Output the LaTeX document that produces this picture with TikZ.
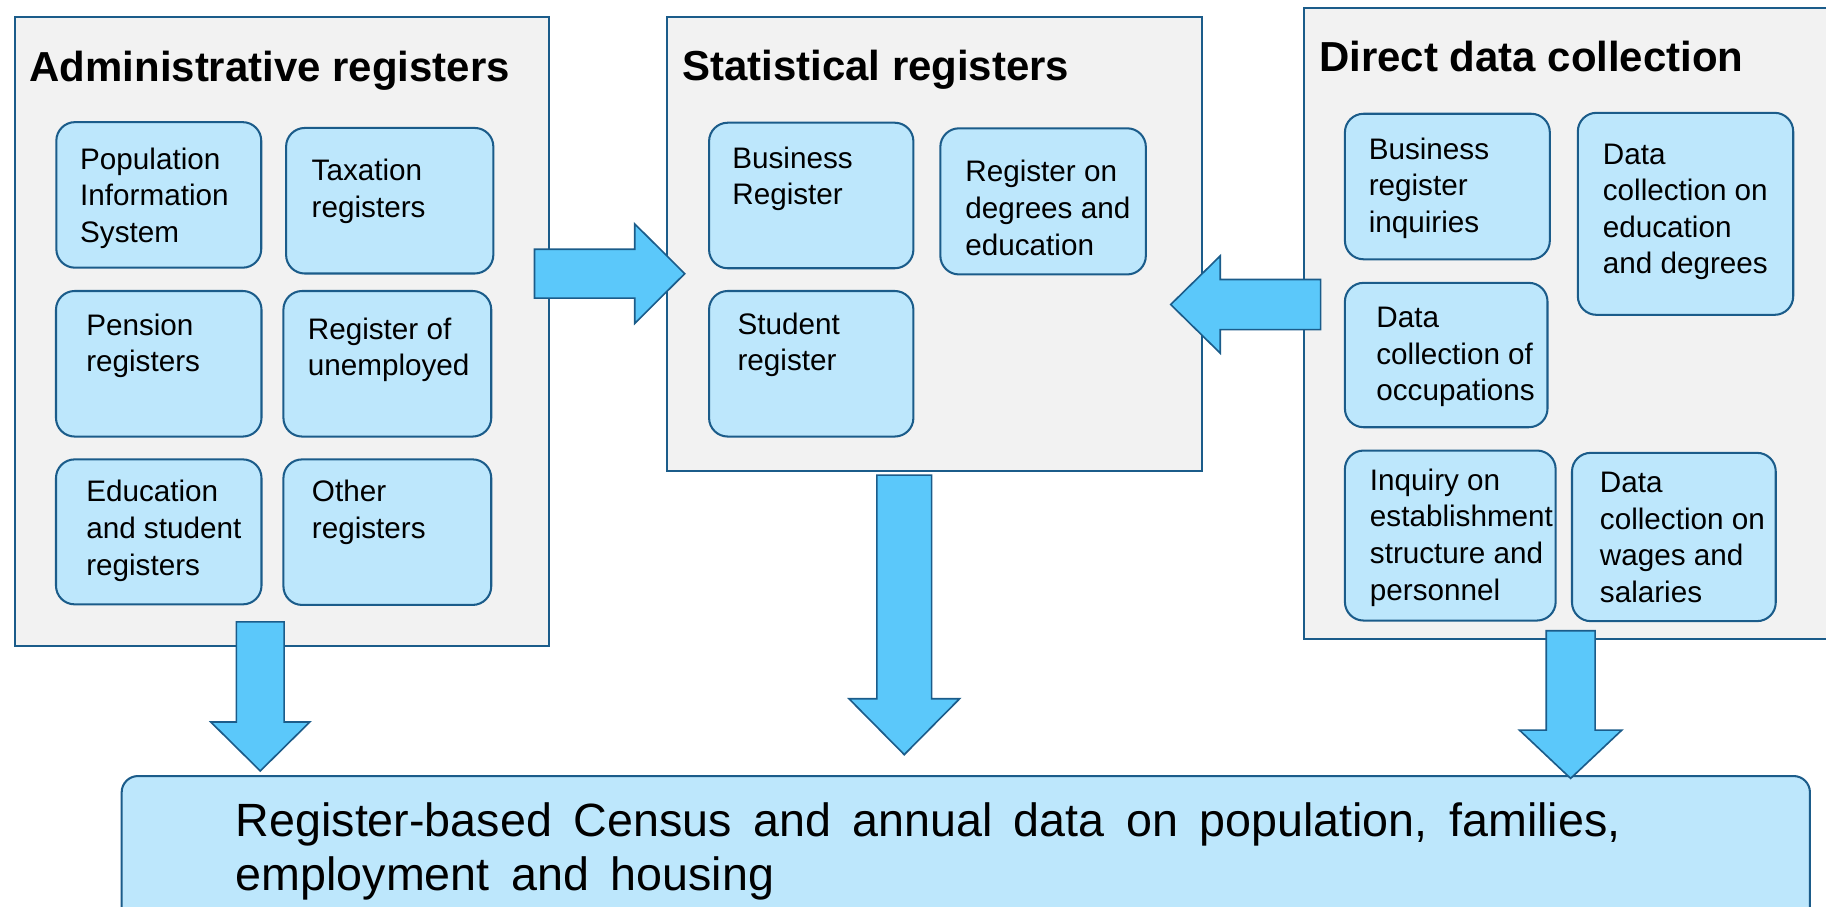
\documentclass[tikz,border=0pt]{standalone}
\usepackage{fontspec}
\setmainfont{Liberation Sans}
\usepackage{tikz}
\usetikzlibrary{calc}

\definecolor{edgeblue}{RGB}{27,92,138}
\definecolor{boxblue}{RGB}{189,231,252}
\definecolor{panelgray}{RGB}{242,242,242}
\definecolor{arrowblue}{RGB}{91,200,250}

% text of a box: width, left indent, lines
\newcommand{\boxtext}[3]{\parbox[t]{#1}{\raggedright\leftskip=#2\relax #3}}
% block arrow: tail, tip, shaft half width, head half width, head length
\newcommand{\fatarrow}[5]{%
  \coordinate (fat base) at ($(#2)!#5!(#1)$);
  \draw[bigarrow] ($(#1)!#3!90:(#2)$) -- ($(fat base)!#3!90:(#2)$) -- ($(fat base)!#4!90:(#2)$) -- (#2)
    -- ($(fat base)!#4!-90:(#2)$) -- ($(fat base)!#3!-90:(#2)$) -- ($(#1)!#3!-90:(#2)$) -- cycle;}

\begin{document}
\begin{tikzpicture}[x=0.02cm, y=-0.02cm,
    panel/.style={draw=edgeblue, fill=panelgray, line width=1pt, rectangle, anchor=north west, inner sep=0pt, font={\fontsize{20.5}{24}\selectfont\bfseries}},
    reg/.style={draw=edgeblue, fill=boxblue, line width=1pt, rectangle, rounded corners=0.32cm, anchor=north west, inner sep=0pt, font={\fontsize{14.5}{17.9}\selectfont}},
    result/.style={reg, rounded corners=0.28cm, font={\fontsize{22.8}{26.5}\selectfont}},
    bigarrow/.style={draw=edgeblue, fill=arrowblue, line width=0.8pt, line join=miter}
]
\useasboundingbox (0,0) rectangle (1568,778);

\node[panel, text height=1.10cm, text depth=9.70cm] (adm) at (12,14) {\boxtext{9.17cm}{0.25cm}{Administrative registers}};
\node[panel, text height=1.09cm, text depth=6.71cm] (stat) at (571.5,14) {\boxtext{9.19cm}{0.27cm}{Statistical registers}};
\node[panel, text height=1.09cm, text depth=9.74cm] (dir) at (1119,6.3) {\boxtext{9.62cm}{0.26cm}{Direct data collection}};

% administrative registers
\node[reg, text height=0.81cm, text depth=1.69cm] (pop) at (47.5,104) {\boxtext{3.52cm}{0.41cm}{Population\\Information\\System}};
\node[reg, text height=0.91cm, text depth=1.59cm] (tax) at (244.8,109) {\boxtext{3.56cm}{0.44cm}{Taxation\\registers}};
\node[reg, text height=0.76cm, text depth=1.74cm] (pension) at (47.2,249) {\boxtext{3.53cm}{0.52cm}{Pension\\registers}};
\node[reg, text height=0.83cm, text depth=1.67cm] (unemp) at (242.5,249) {\boxtext{3.57cm}{0.42cm}{Register of\\unemployed}};
\node[reg, text height=0.73cm, text depth=1.76cm] (edu) at (47.2,393.6) {\boxtext{3.53cm}{0.52cm}{Education\\and student\\registers}};
\node[reg, text height=0.73cm, text depth=1.77cm] (other) at (242.5,393.6) {\boxtext{3.57cm}{0.49cm}{Other\\registers}};

% statistical registers
\node[reg, text height=0.78cm, text depth=1.72cm] (busreg) at (608,104.5) {\boxtext{3.51cm}{0.40cm}{Business\\Register}};
\node[reg, text height=0.92cm, text depth=1.59cm] (degrees) at (806.6,109.3) {\boxtext{3.53cm}{0.43cm}{Register on\\degrees and\\education}};
\node[reg, text height=0.74cm, text depth=1.76cm] (student) at (608,249) {\boxtext{3.51cm}{0.49cm}{Student\\register}};

% direct data collection
\node[reg, text height=0.78cm, text depth=1.72cm] (inquiries) at (1154,96.8) {\boxtext{3.52cm}{0.41cm}{Business\\register\\inquiries}};
\node[reg, text height=0.88cm, text depth=2.59cm] (educoll) at (1354,96) {\boxtext{3.70cm}{0.43cm}{Data\\collection on\\education\\and degrees}};
\node[reg, text height=0.77cm, text depth=1.71cm] (occup) at (1154,242) {\boxtext{3.48cm}{0.54cm}{Data\\collection of\\occupations}};
\node[reg, text height=0.68cm, text depth=2.24cm] (estab) at (1154,386) {\boxtext{3.62cm}{0.43cm}{Inquiry on\\establishment\\structure and\\personnel}};
\node[reg, text height=0.68cm, text depth=2.21cm] (wages) at (1349,388) {\boxtext{3.50cm}{0.48cm}{Data\\collection on\\wages and\\salaries}};

% result
\node[result, text height=1.03cm, text depth=1.76cm] (census) at (103.6,665.5) {\boxtext{29.0cm}{1.96cm}{\spaceskip=10.5pt Register-based Census and annual data on population, families,\\employment and housing}};

% arrow ends
\coordinate (admR) at (459,235);
\coordinate (statL) at (588,235);
\coordinate (dirL) at (1134,261.5);
\coordinate (statR) at (1005.3,261.5);
\coordinate (admS) at (223.5,534);
\coordinate (cenA) at (223.5,662);
\coordinate (statS) at (776.5,408);
\coordinate (cenB) at (776.5,648);
\coordinate (dirS) at (1348.7,541.6);
\coordinate (cenC) at (1348.7,668.4);

\fatarrow{admR}{statL}{0.42cm}{0.855cm}{0.86cm}
\fatarrow{dirL}{statR}{0.43cm}{0.835cm}{0.85cm}
\fatarrow{admS}{cenA}{0.41cm}{0.85cm}{0.84cm}
\fatarrow{statS}{cenB}{0.47cm}{0.95cm}{0.96cm}
\fatarrow{dirS}{cenC}{0.42cm}{0.88cm}{0.83cm}
\end{tikzpicture}
\end{document}
